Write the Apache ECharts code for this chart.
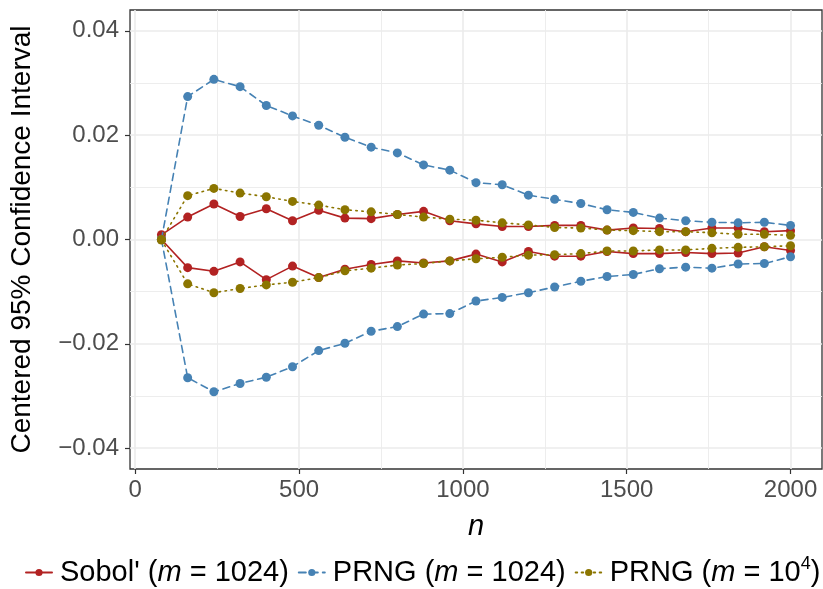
<!DOCTYPE html>
<html>
<head>
<meta charset="utf-8">
<script src="https://cdn.jsdelivr.net/npm/echarts@6/dist/echarts.min.js"></script>
<style>
html,body{margin:0;padding:0;background:#fff;}
#chart{width:823px;height:589px;}
</style>
</head>
<body>
<div id="chart"></div>
<script>
// ---- data ----
var nValues = [80,160,240,320,400,480,560,640,720,800,880,960,1040,1120,1200,1280,1360,1440,1520,1600,1680,1760,1840,1920,2000];

var sobolUpper = [0.0009,0.0043,0.0068,0.0044,0.0059,0.0036,0.0056,0.0041,0.0040,0.0048,0.0054,0.0036,0.0030,0.0025,0.0025,0.0027,0.0027,0.0018,0.0022,0.0021,0.0015,0.0022,0.0022,0.0015,0.0017];
var sobolLower = [0.0000,-0.0054,-0.0061,-0.0043,-0.0077,-0.0051,-0.0073,-0.0057,-0.0048,-0.0041,-0.0045,-0.0041,-0.0028,-0.0043,-0.0023,-0.0032,-0.0032,-0.0023,-0.0027,-0.0027,-0.0025,-0.0027,-0.0026,-0.0014,-0.0021];

var prng1024Upper = [0.0000,0.0274,0.0307,0.0293,0.0257,0.0237,0.0219,0.0196,0.0177,0.0166,0.0143,0.0133,0.0109,0.0105,0.0085,0.0077,0.0069,0.0057,0.0052,0.0041,0.0036,0.0033,0.0032,0.0033,0.0027];
var prng1024Lower = [0.0000,-0.0265,-0.0292,-0.0276,-0.0264,-0.0244,-0.0213,-0.0199,-0.0176,-0.0167,-0.0143,-0.0142,-0.0118,-0.0111,-0.0102,-0.0091,-0.0080,-0.0071,-0.0067,-0.0056,-0.0053,-0.0055,-0.0047,-0.0046,-0.0033];

var prng1e4Upper = [0.0000,0.0084,0.0098,0.0089,0.0082,0.0073,0.0066,0.0057,0.0053,0.0048,0.0043,0.0039,0.0037,0.0032,0.0028,0.0023,0.0022,0.0018,0.0017,0.0015,0.0015,0.0013,0.0010,0.0010,0.0008];
var prng1e4Lower = [-0.0001,-0.0085,-0.0102,-0.0094,-0.0087,-0.0082,-0.0073,-0.0060,-0.0055,-0.0049,-0.0046,-0.0041,-0.0037,-0.0034,-0.0030,-0.0029,-0.0027,-0.0022,-0.0022,-0.0020,-0.0020,-0.0017,-0.0015,-0.0014,-0.0012];

var xTicks = [0,500,1000,1500,2000];
var xMinorTicks = [250,750,1250,1750];
var yTicks = [-0.04,-0.02,0,0.02,0.04];
var yMinorTicks = [-0.03,-0.01,0.01,0.03];

var seriesNames = ["Sobol'", "PRNG1024", "PRNG1e4"];
var legendLabels = {
  "Sobol'": "{g|}Sobol' ({i|m} = 1024)",
  "PRNG1024": "{g|}PRNG ({i|m} = 1024)",
  "PRNG1e4": "{g|}PRNG ({i|m} = 10{sup|4})"
};

// ---- chart ----
var FONT = "Liberation Sans, Arial, sans-serif";
var colors = {"Sobol'": "#B22222", "PRNG1024": "#4682B4", "PRNG1e4": "#8B7500"};
var dash = {"Sobol'": "solid", "PRNG1024": [7,5], "PRNG1e4": [1.5,4.5]};

function pairs(ys){ return nValues.map(function(n,i){ return [n, ys[i]]; }); }

function mk(name, ys, z){
  return {
    name: name, type: 'line', data: pairs(ys),
    xAxisIndex: 0, yAxisIndex: 0,
    symbol: 'circle', symbolSize: 9, z: z,
    lineStyle: {color: colors[name], width: 1.6, type: dash[name], cap: 'round'},
    itemStyle: {color: colors[name]},
    animation: false, silent: true
  };
}

var chart = echarts.init(document.getElementById('chart'), null, {renderer: 'canvas'});

var gridLine = {show: true, lineStyle: {color: '#EBEBEB', width: 1.6}};
var gridLineMinor = {show: true, lineStyle: {color: '#EBEBEB', width: 0.9}};

chart.setOption({
  animation: false,
  backgroundColor: '#ffffff',
  textStyle: {fontFamily: FONT},
  grid: {left: 126, right: 1, top: 10, bottom: 120, show: true, borderColor: '#333333', borderWidth: 1.3, backgroundColor: 'transparent'},
  legend: {
    data: seriesNames,
    bottom: 2, left: 25, width: 820, padding: 0,
    itemWidth: 26, itemHeight: 9, itemGap: 9,
    formatter: function(name){ return legendLabels[name]; },
    textStyle: {
      fontFamily: FONT, fontSize: 29, color: '#000000',
      rich: {
        g: {width: 3},
        i: {fontFamily: FONT, fontSize: 29, fontStyle: 'italic', color: '#000'},
        sup: {fontFamily: FONT, fontSize: 18, color: '#000', verticalAlign: 'top', padding: [0,0,16,0]}
      }
    }
  },
  xAxis: [
    {
      type: 'value', min: -16, max: 2096,
      name: 'n', nameLocation: 'middle', nameGap: 43,
      nameTextStyle: {fontFamily: FONT, fontSize: 29, fontStyle: 'italic', color: '#000'},
      axisLine: {show: false, onZero: false},
      axisTick: {show: true, length: 5, customValues: xTicks, lineStyle: {color: '#333', width: 1.2}},
      axisLabel: {show: true, customValues: xTicks, margin: 9, fontFamily: FONT, fontSize: 24, color: '#4D4D4D',
        formatter: function(v){ return String(Math.round(v)); }},
      splitLine: gridLine
    },
    {
      type: 'value', min: -16, max: 2096, gridIndex: 0,
      axisLine: {show: false, onZero: false}, axisLabel: {show: false},
      axisTick: {show: false, customValues: xMinorTicks},
      splitLine: gridLineMinor
    }
  ],
  yAxis: [
    {
      type: 'value', min: -0.044, max: 0.044,
      name: 'Centered 95% Confidence Interval', nameLocation: 'middle', nameGap: 94,
      nameTextStyle: {fontFamily: FONT, fontSize: 28, color: '#000'},
      axisLine: {show: false, onZero: false},
      axisTick: {show: true, length: 5, customValues: yTicks, lineStyle: {color: '#333', width: 1.2}},
      axisLabel: {show: true, customValues: yTicks, margin: 11, fontFamily: FONT, fontSize: 24, color: '#4D4D4D',
        formatter: function(v){ var s = Math.abs(v).toFixed(2); return (v < -1e-9 ? '\u2212' : '') + s; }},
      splitLine: gridLine
    },
    {
      type: 'value', min: -0.044, max: 0.044, gridIndex: 0,
      axisLine: {show: false, onZero: false}, axisLabel: {show: false},
      axisTick: {show: false, customValues: yMinorTicks},
      splitLine: gridLineMinor
    }
  ],
  series: [
    mk("Sobol'", sobolUpper, 2),
    mk("Sobol'", sobolLower, 2),
    mk("PRNG1024", prng1024Upper, 3),
    mk("PRNG1024", prng1024Lower, 3),
    mk("PRNG1e4", prng1e4Upper, 4),
    mk("PRNG1e4", prng1e4Lower, 4)
  ]
});
</script>
</body>
</html>
